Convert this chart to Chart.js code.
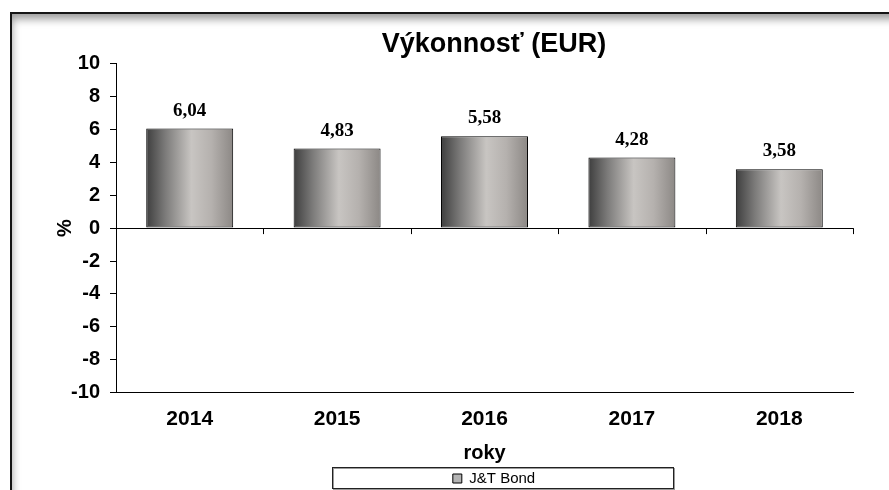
<!DOCTYPE html>
<html>
<head>
<meta charset="utf-8">
<title>Výkonnosť (EUR)</title>
<script src="https://cdn.jsdelivr.net/npm/chart.js@4.4.1/dist/chart.umd.min.js"></script>
<style>
    html, body { margin: 0; padding: 0; background: #fff; overflow: hidden; }
    body { width: 889px; height: 490px; position: relative; }
    /* ramik okolo grafu, ako v povodnom obrazku */
    #frame {
        position: absolute; left: 10px; top: 12px; width: 900px; height: 500px;
        border-top: 2px solid #151515; border-left: 2px solid #151515;
        box-shadow: inset 3px 8px 8px -3px rgba(0, 0, 0, 0.4);
    }
    #chart { position: absolute; left: 0; top: 0; }
</style>
</head>
<body>
<div id="frame"></div>
<canvas id="chart" width="960" height="496"></canvas>
<script>
// Data grafu
const years = ['2014', '2015', '2016', '2017', '2018'];
const performance = [6.04, 4.83, 5.58, 4.28, 3.58];
const seriesName = 'J&T Bond';
const yTicks = [-10, -8, -6, -4, -2, 0, 2, 4, 6, 8, 10];

// Farby stlpcov (prechod zlava doprava)
const barStops = [
    [0, '#3e3e3e'],
    [0.22, '#7c7b7a'],
    [0.52, '#c8c5c2'],
    [0.75, '#b5b1ae'],
    [1, '#8c8885']
];

const barPct = 0.59;

// Vypln stlpca - gradient podla polohy na osi x
function barFill(c) {
    const chart = c.chart;
    const xs = chart.scales.x;
    if (!xs || c.dataIndex === undefined) return '#a0a0a0';
    const cx = xs.getPixelForValue(c.dataIndex);
    const half = xs.width / years.length * barPct / 2;
    const g = chart.ctx.createLinearGradient(cx - half, 0, cx + half, 0);
    barStops.forEach(s => g.addColorStop(s[0], s[1]));
    return g;
}

// Hodnoty nad stlpcami
const valueLabels = {
    id: 'valueLabels',
    afterDatasetsDraw(chart) {
        const ctx = chart.ctx;
        const meta = chart.getDatasetMeta(0);
        ctx.save();
        ctx.font = 'bold 19px "Liberation Serif", "Times New Roman", serif';
        ctx.fillStyle = '#000';
        ctx.textAlign = 'center';
        ctx.textBaseline = 'alphabetic';
        meta.data.forEach((bar, i) => {
            const txt = performance[i].toFixed(2).replace('.', ',');
            ctx.fillText(txt, bar.x, bar.y - 13);
        });
        ctx.restore();
    }
};

// Male ciarky na nulovej osi medzi kategoriami + ramik legendy
const axisExtras = {
    id: 'axisExtras',
    afterDatasetsDraw(chart) {
        const ctx = chart.ctx;
        const xs = chart.scales.x;
        const y0 = chart.scales.y.getPixelForValue(0);
        ctx.save();
        ctx.strokeStyle = '#000';
        ctx.lineWidth = 1;
        ctx.beginPath();
        for (let i = 0; i <= years.length; i++) {
            const x = Math.round(xs.getPixelForValue(i - 0.5)) + 0.5;
            ctx.moveTo(x, y0);
            ctx.lineTo(x, y0 + 6);
        }
        ctx.stroke();
        ctx.restore();
    },
    afterDraw(chart) {
        const lg = chart.legend;
        if (!lg) return;
        const ctx = chart.ctx;
        const cx = (lg.left + lg.right) / 2;
        const left = Math.round(cx - 162) + 0.5;
        const top = Math.round(lg.top) + 0.5;
        ctx.save();
        ctx.strokeStyle = '#9a9a9a';
        ctx.strokeRect(left + 1, top + 1, 341, 21);
        ctx.strokeStyle = '#222';
        ctx.strokeRect(left, top, 341, 21);
        ctx.restore();
    }
};

new Chart(document.getElementById('chart'), {
    type: 'bar',
    data: {
        labels: years,
        datasets: [{
            label: seriesName,
            data: performance,
            backgroundColor: barFill,
            borderColor: '#000',
            borderWidth: 1,
            borderSkipped: false,
            barPercentage: barPct,
            categoryPercentage: 1
        }]
    },
    options: {
        responsive: false,
        animation: false,
        layout: { padding: { left: 53, right: 25, top: 28, bottom: 0 } },
        plugins: {
            title: {
                display: true,
                text: 'Výkonnosť (EUR)',
                color: '#000',
                font: { family: '"Liberation Sans", Arial, sans-serif', size: 27, weight: 'bold' },
                padding: { top: 0, bottom: 3 }
            },
            legend: {
                position: 'bottom',
                labels: {
                    color: '#000',
                    font: { family: '"Liberation Sans", Arial, sans-serif', size: 15 },
                    boxWidth: 9,
                    boxHeight: 9,
                    padding: 4,
                    generateLabels: () => [{
                        text: seriesName,
                        fillStyle: '#b4b4b4',
                        strokeStyle: '#000',
                        lineWidth: 1,
                        datasetIndex: 0
                    }]
                }
            },
            tooltip: { enabled: false }
        },
        scales: {
            x: {
                grid: { display: false, drawTicks: false },
                border: { display: true, color: '#000', width: 1 },
                ticks: {
                    color: '#000',
                    padding: 14,
                    font: { family: '"Liberation Sans", Arial, sans-serif', size: 21, weight: 'bold' }
                },
                title: {
                    display: true,
                    text: 'roky',
                    color: '#000',
                    font: { family: '"Liberation Sans", Arial, sans-serif', size: 20, weight: 'bold' },
                    padding: { top: -5, bottom: 2 }
                }
            },
            y: {
                min: -10,
                max: 10,
                afterBuildTicks: s => { s.ticks = yTicks.map(v => ({ value: v })); },
                afterFit: s => { s.width = 63; },
                grid: {
                    color: c => (c.tick && c.tick.value === 0 ? '#000' : 'rgba(0,0,0,0)'),
                    tickColor: '#000',
                    tickLength: 6,
                    lineWidth: 1
                },
                border: { display: true, color: '#000', width: 1 },
                ticks: {
                    color: '#000',
                    padding: 10,
                    font: { family: '"Liberation Sans", Arial, sans-serif', size: 20, weight: 'bold' }
                },
                title: {
                    display: true,
                    text: '%',
                    color: '#000',
                    font: { family: '"Liberation Sans", Arial, sans-serif', size: 20, weight: 'bold' },
                    padding: 0
                }
            },
            // prazdna os vpravo, aby nadpis bol nad grafom ako v predlohe
            yRight: {
                position: 'right',
                min: 0,
                max: 1,
                afterFit: s => { s.width = 82; },
                grid: { display: false, drawTicks: false },
                border: { display: false },
                ticks: { display: false }
            }
        }
    },
    plugins: [valueLabels, axisExtras]
});
</script>
</body>
</html>
